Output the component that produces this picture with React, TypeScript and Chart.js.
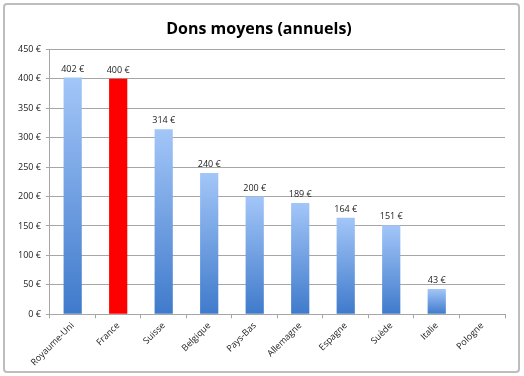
import React, { useEffect, useRef } from "react";
import { Chart, registerables } from "chart.js";

Chart.register(...registerables);

const categories = ["Royaume-Uni", "France", "Suisse", "Belgique", "Pays-Bas", "Allemagne", "Espagne", "Suède", "Italie", "Pologne"];
const values: (number | null)[] = [402, 400, 314, 240, 200, 189, 164, 151, 43, null];
const highlightIndex = 1;
const titleText = "Dons moyens (annuels)";
const FONT = "'Open Sans', 'Liberation Sans', sans-serif";

const frame = {
  id: "frame",
  beforeDraw(chart: any) {
    const c = chart.ctx;
    c.save();
    c.fillStyle = "#ffffff";
    c.fillRect(0, 0, chart.width, chart.height);
    c.strokeStyle = "#bdbdbd";
    c.lineWidth = 2;
    const x = 4, y = 4, w = 515, h = 368, r = 3;
    c.beginPath();
    c.moveTo(x + r, y);
    c.lineTo(x + w - r, y);
    c.arcTo(x + w, y, x + w, y + r, r);
    c.lineTo(x + w, y + h - r);
    c.arcTo(x + w, y + h, x + w - r, y + h, r);
    c.lineTo(x + r, y + h);
    c.arcTo(x, y + h, x, y + h - r, r);
    c.lineTo(x, y + r);
    c.arcTo(x, y, x + r, y, r);
    c.closePath();
    c.stroke();
    c.restore();
  },
};

const valueLabels = {
  id: "valueLabels",
  afterDatasetsDraw(chart: any) {
    const c = chart.ctx;
    const meta = chart.getDatasetMeta(0);
    c.save();
    c.font = `9px ${FONT}`;
    c.fillStyle = "#222222";
    c.textAlign = "center";
    c.textBaseline = "bottom";
    meta.data.forEach((el: any, i: number) => {
      const v = values[i];
      if (v === null || v === undefined) return;
      c.fillText(`${v} €`, el.x, el.y - 4);
    });
    c.restore();
  },
};

export default function App() {
  const ref = useRef<HTMLCanvasElement | null>(null);
  useEffect(() => {
    if (!ref.current) return;
    const chart = new Chart(ref.current, {
      type: "bar",
      data: {
        labels: categories,
        datasets: [
          {
            data: values,
            barPercentage: 0.8,
            categoryPercentage: 0.5,
            backgroundColor: (ctx: any) => {
              const ch = ctx.chart;
              if (ctx.dataIndex === highlightIndex) return "#ff0000";
              const ys = ch.scales && ch.scales.y;
              const v = ctx.raw;
              if (!ch.chartArea || !ys || v == null) return "#6a9de0";
              const top = ys.getPixelForValue(v);
              const bottom = ys.getPixelForValue(0);
              if (!isFinite(top) || !isFinite(bottom) || top === bottom) return "#6a9de0";
              const g = ch.ctx.createLinearGradient(0, top, 0, bottom);
              g.addColorStop(0, "#a3c6f8");
              g.addColorStop(1, "#3f7acb");
              return g;
            },
            borderWidth: 0,
          },
        ],
      },
      options: {
        animation: false,
        responsive: false,
        maintainAspectRatio: false,
        layout: { padding: { left: 13, right: 19, top: 14, bottom: 6 } },
        plugins: {
          legend: { display: false },
          tooltip: { enabled: false },
          title: {
            display: true,
            text: titleText,
            color: "#000000",
            font: { family: FONT, size: 16, weight: "bold" },
            padding: { top: 6, bottom: 10 },
          },
        },
        scales: {
          x: {
            offset: true,
            grid: {
              display: true,
              offset: true,
              drawOnChartArea: false,
              drawTicks: true,
              tickLength: 4,
              color: "#a6a6a6",
            },
            border: { display: true, color: "#a6a6a6" },
            ticks: {
              minRotation: 45,
              maxRotation: 45,
              autoSkip: false,
              color: "#222222",
              font: { family: FONT, size: 9 },
              padding: 2,
            },
          },
          y: {
            min: 0,
            max: 450,
            grid: { color: "#a6a6a6", tickLength: 4 },
            border: { display: true, color: "#a6a6a6" },
            ticks: {
              stepSize: 50,
              color: "#222222",
              font: { family: FONT, size: 9 },
              padding: 5,
              callback: (v: any) => `${v} €`,
            },
          },
        },
      },
      plugins: [frame, valueLabels],
    });
    return () => chart.destroy();
  }, []);
  return (
    <div style={{ position: "fixed", left: 0, top: 0, width: 524, height: 376 }}>
      <canvas ref={ref} width={524} height={376} style={{ width: 524, height: 376, display: "block" }} />
    </div>
  );
}
